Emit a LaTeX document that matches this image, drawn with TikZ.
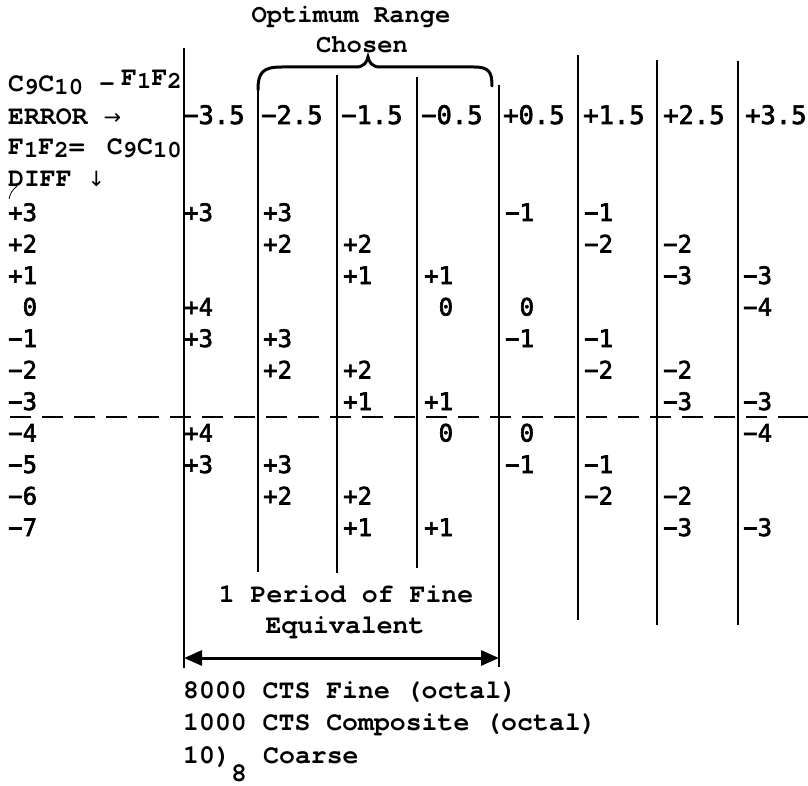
\documentclass[tikz,border=0pt]{standalone}
\usepackage{fontspec}
\usetikzlibrary{arrows.meta}
\newfontfamily\twfam{texgyrecursor-bold.otf}
\newfontfamily\sansmono[FakeBold=2.5]{DejaVu Sans Mono}
\newfontfamily\arrowfam{DejaVu Sans}
\newcommand\twf{\twfam\fontsize{26.5}{30}\selectfont}
\newcommand\hdf{\sansmono\fontsize{25.5}{30}\selectfont}
\newcommand\nmf{\sansmono\fontsize{24}{28}\selectfont}
\newcommand\sbs[1]{\raisebox{-3pt}{\fontsize{24}{26}\selectfont #1}}
\newcommand\arw[1]{{\arrowfam\fontsize{21}{24}\selectfont #1}}
\tikzset{
  vline/.style={line width=2.6pt},
  tw/.style={inner sep=0pt, anchor=base west, font=\twf},
  twe/.style={inner sep=0pt, anchor=base east, font=\twf},
  twc/.style={inner sep=0pt, anchor=base, font=\twf},
  hd/.style={inner sep=0pt, anchor=base west, font=\hdf},
  nm/.style={inner sep=0pt, anchor=base west, font=\nmf},
  dashline/.style={line width=2pt, dash pattern=on 21pt off 11pt},
  bracestyle/.style={line width=3pt, line cap=round},
  dimarrow/.style={line width=3pt, {Triangle[length=18pt,width=15pt]}-{Triangle[length=18pt,width=15pt]}},
}
\begin{document}
\begin{tikzpicture}[x=1pt,y=-1pt]
\useasboundingbox (0,0) rectangle (808,786);
\fill[white] (0,0) rectangle (808,786);

% vertical dividers
\foreach \i/\x/\t/\b in {1/184/48/668, 2/258/88/572, 3/337/75/573, 4/417/77/568,
                         5/499/85/667, 6/578/55/620, 7/657/60/625, 8/738/61/625} {
  \coordinate (L\i t) at (\x,\t);
  \coordinate (L\i b) at (\x,\b);
  \draw[vline] (L\i t) -- (L\i b);
}

% brace
\coordinate (B1) at (258,90);
\coordinate (B2) at (492,86);
\draw[bracestyle] (B1) .. controls (258,72) and (263,67) .. (282,67) -- (356,67)
  .. controls (364,67) and (367,62) .. (368,57)
  .. controls (369,62) and (372,67) .. (380,67) -- (474,67)
  .. controls (489,67) and (492,72) .. (B2);

\node[twc, font=\twfam\fontsize{25.5}{30}\selectfont] (opt) at (351,23) {Optimum Range};
\node[twc, font=\twfam\fontsize{25.5}{30}\selectfont] (chosen) at (362,53) {Chosen};

% left header labels
\node[tw] (lab1) at (8,92) {C\sbs{9}C\sbs{10} -};
\node[twe] (lab1b) at (182,86) {F\sbs{1}F\sbs{2}};
\node[tw] (lab2) at (8,125) {ERROR \arw{→}};
\node[tw] (lab3) at (8,155) {F\sbs{1}F\sbs{2}=};
\node[twe] (lab3b) at (182,155) {C\sbs{9}C\sbs{10}};
\node[tw] (lab4) at (8,187) {DIFF \arw{↓}};
\draw[line width=0.8pt] (9,199) .. controls (11,192) .. (17,186);

% column headers
\foreach \x/\t [count=\k] in {183/−3.5, 261/−2.5, 341/−1.5, 421/−0.5,
                              503/+0.5, 583/+1.5, 663/+2.5, 745/+3.5} {
  \node[hd] (h\k) at (\x,124) {\t};
}

% left DIFF column
\foreach \t [count=\r from 0] in {+3,+2,+1,\phantom{+}0,−1,−2,−3,−4,−5,−6,−7} {
  \node[nm] (d\r) at (8,{221+31.5*\r}) {\t};
}

% table entries
\foreach \r/\x/\t in {
  0/184/+3, 0/263/+3, 0/505/−1, 0/584/−1,
  1/263/+2, 1/343/+2, 1/584/−2, 1/663/−2,
  2/343/+1, 2/424/+1, 2/663/−3, 2/743/−3,
  3/184/+4, 3/424/\phantom{+}0, 3/505/\phantom{+}0, 3/743/−4,
  4/184/+3, 4/263/+3, 4/505/−1, 4/584/−1,
  5/263/+2, 5/343/+2, 5/584/−2, 5/663/−2,
  6/343/+1, 6/424/+1, 6/663/−3, 6/743/−3,
  7/184/+4, 7/424/\phantom{+}0, 7/505/\phantom{+}0, 7/743/−4,
  8/184/+3, 8/263/+3, 8/505/−1, 8/584/−1,
  9/263/+2, 9/343/+2, 9/584/−2, 9/663/−2,
  10/343/+1, 10/424/+1, 10/663/−3, 10/743/−3} {
  \node[nm] (e\r-\x) at (\x,{221+31.5*\r}) {\t};
}

% dashed separator
\coordinate (D0) at (10,417);
\coordinate (D1) at (778,417);
\coordinate (D2) at (808,417);
\draw[dashline] (D0) -- (D1);
\draw[line width=2pt] (D1) -- (D2);

% bottom annotations
\node[twc] (per1) at (346,602) {1 Period of Fine};
\node[twc] (per2) at (345,633) {Equivalent};
\coordinate (A1) at (184,658);
\coordinate (A5) at (499,658);
\draw[dimarrow] (A1) -- (A5);

\node[tw] (t1) at (183,698) {8000 CTS Fine (octal)};
\node[tw] (t2) at (183,730) {1000 CTS Composite (octal)};
\node[tw] (t3) at (183,763) {10)};
\node[tw] (t4) at (263,763) {Coarse};
\node[tw] (t5) at (231,781) {8};
\end{tikzpicture}
\end{document}
